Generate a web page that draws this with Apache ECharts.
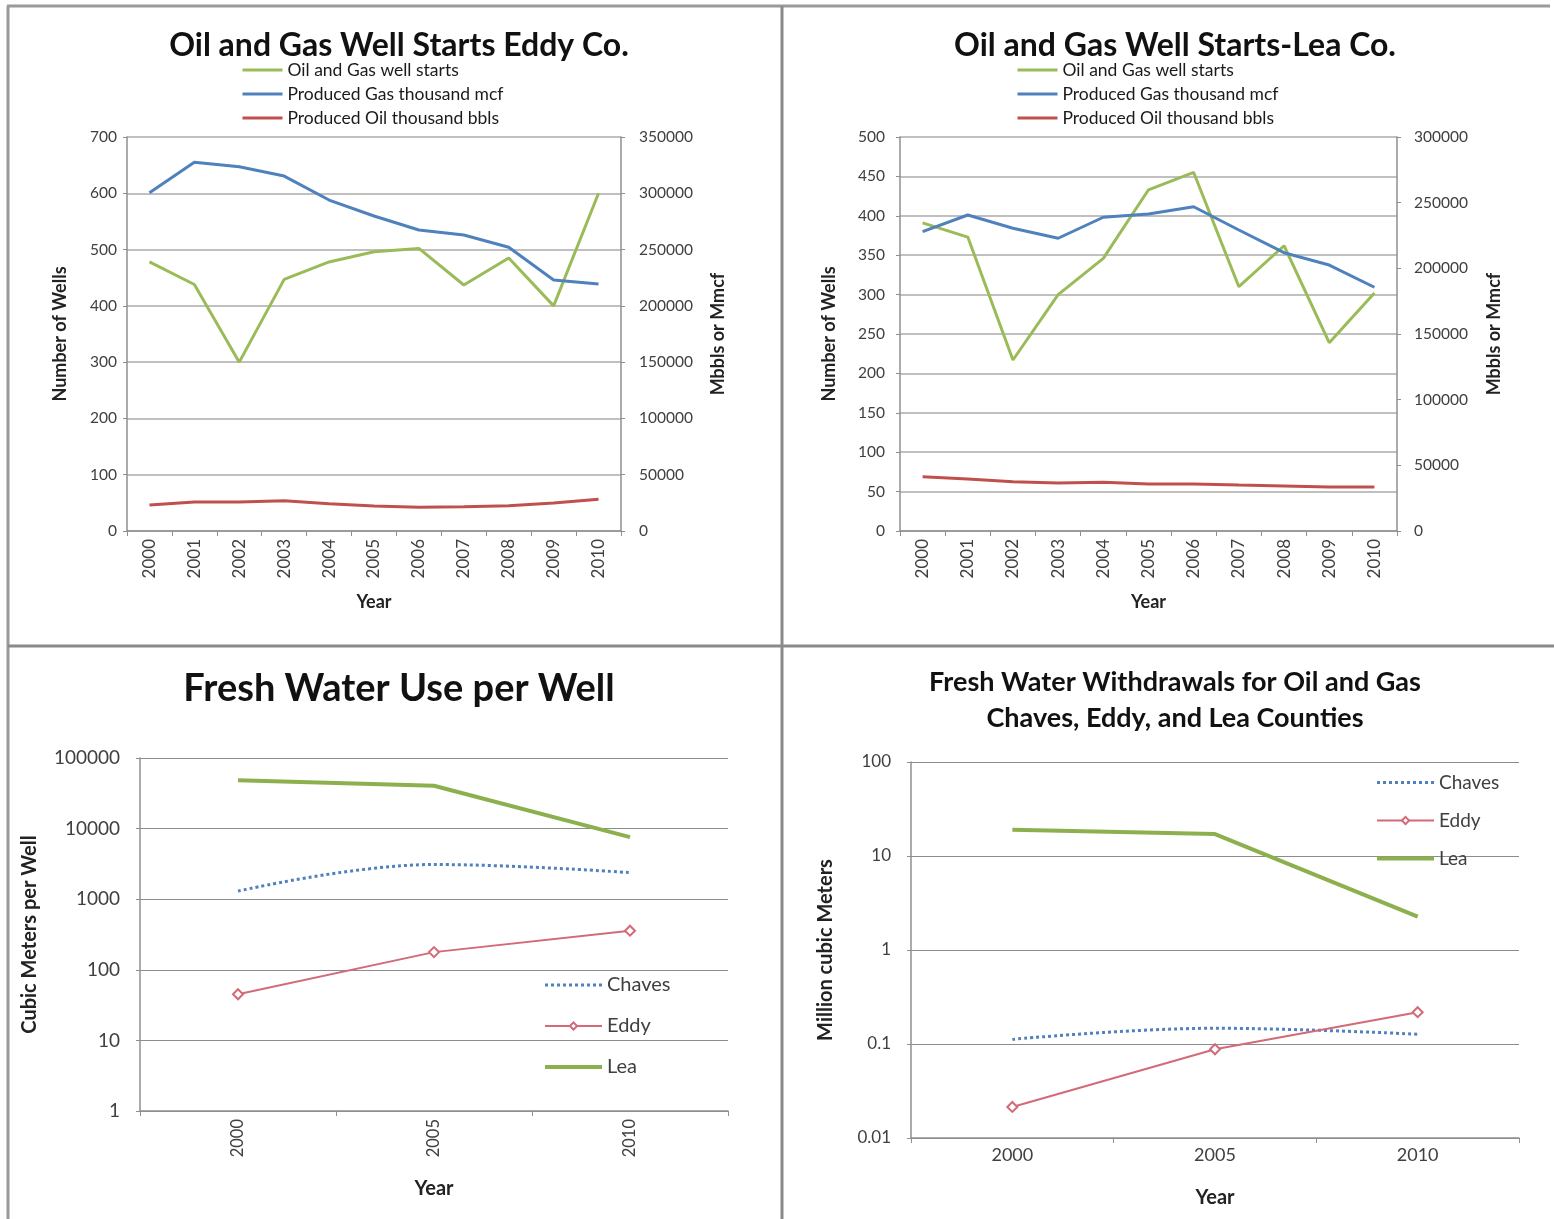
<!DOCTYPE html>
<html>
<head>
<meta charset="utf-8">
<title>Oil and Gas Wells and Fresh Water Use</title>
<script src="https://cdn.jsdelivr.net/npm/echarts@6/dist/echarts.min.js"></script>
<style>
  html, body { margin: 0; padding: 0; background: #fff; }
  #chart { width: 1554px; height: 1219px; }
</style>
</head>
<body>
<div id="chart"></div>
<script>
// Year categories
const years = ['2000', '2001', '2002', '2003', '2004', '2005', '2006', '2007', '2008', '2009', '2010'];
const waterYears = ['2000', '2005', '2010'];

// Eddy County: well starts (count), produced gas (thousand mcf), produced oil (thousand bbls)
const eddyWellStarts = [478, 438, 300, 447, 478, 496, 502, 437, 485, 400, 600];
const eddyGas = [300500, 327500, 323500, 315300, 294000, 279800, 267400, 262900, 252000, 223000, 219400];
const eddyOil = [23100, 25800, 25800, 26900, 24200, 22200, 21000, 21600, 22500, 24900, 28200];

// Lea County
const leaWellStarts = [391, 373, 217, 300, 346, 433, 455, 310, 362, 239, 302];
const leaGas = [227900, 240600, 230500, 222900, 238900, 241400, 246900, 229200, 211900, 202500, 185600];
const leaOil = [41300, 39600, 37500, 36500, 37100, 35800, 35800, 35000, 34300, 33500, 33500];

// Fresh water use per well (cubic meters)
const perWellChaves = [1300, 3100, 2380];
const perWellEddy = [45, 178, 358];
const perWellLea = [48500, 40400, 7580];

// Fresh water withdrawals (million cubic meters)
const withdrawChaves = [0.112, 0.147, 0.127];
const withdrawEddy = [0.0214, 0.088, 0.218];
const withdrawLea = [19, 17.1, 2.27];

const FONT = 'Lato, "Open Sans", sans-serif';
const GREEN = '#9BBB59';
const LEA_GREEN = '#8DB04E';
const BLUE = '#4F81BD';
const RED = '#C0504D';
const EDDY_RED = '#D26A78';
const GRID_LINE = '#ABABAB';
const AXIS_LINE = '#8F8F8F';
const LABEL = '#404040';

const plain = v => String(Number(Number(v).toPrecision(8)));

function catAxis(gridIndex, data, rotate, fontSize, nameGap, nameSize) {
  return {
    type: 'category', gridIndex, data, boundaryGap: true,
    name: 'Year', nameLocation: 'middle', nameGap,
    nameTextStyle: { fontFamily: FONT, fontWeight: 'bold', fontSize: nameSize, color: '#222' },
    axisLine: { lineStyle: { color: AXIS_LINE, width: 1.5 } },
    axisTick: { show: true, interval: 0, alignWithLabel: false, length: 5, lineStyle: { color: AXIS_LINE } },
    axisLabel: { rotate, interval: 0, fontFamily: FONT, fontSize, color: LABEL, margin: 8 },
    splitLine: { show: false }
  };
}

function valAxis(gridIndex, min, max, interval, opts, labelMargin) {
  return Object.assign({
    type: 'value', gridIndex, min, max, interval,
    nameLocation: 'middle', nameRotate: 90,
    nameTextStyle: { fontFamily: FONT, fontWeight: 'bold', fontSize: 18, color: '#222' },
    axisLine: { show: true, lineStyle: { color: AXIS_LINE, width: 1.5 } },
    axisTick: { show: true, length: 4, lineStyle: { color: AXIS_LINE } },
    axisLabel: { fontFamily: FONT, fontSize: 15.5, color: LABEL, formatter: plain, margin: labelMargin },
    splitLine: { show: true, lineStyle: { color: GRID_LINE, width: 1.5 } }
  }, opts || {});
}

function logAxis(gridIndex, min, max, name, nameGap, labelSize) {
  return {
    type: 'log', logBase: 10, gridIndex, min, max,
    name, nameLocation: 'middle', nameRotate: 90, nameGap,
    nameTextStyle: { fontFamily: FONT, fontWeight: 'bold', fontSize: 20, color: '#222' },
    axisLine: { show: true, lineStyle: { color: AXIS_LINE, width: 1.5 } },
    axisTick: { show: true, length: 4, lineStyle: { color: AXIS_LINE } },
    axisLabel: { fontFamily: FONT, fontSize: labelSize, color: LABEL, formatter: plain, margin: 20 },
    splitLine: { show: true, lineStyle: { color: '#8C8C8C', width: 1.2 } }
  };
}

// series legends show plain line keys; the line-only keys hide the symbol
const noMark = { opacity: 0 };

function topLegend(left) {
  return {
    orient: 'vertical', left, top: 61, padding: 0,
    itemWidth: 40, itemHeight: 20, itemGap: 6,
    itemStyle: noMark,
    lineStyle: { width: 3 },
    textStyle: { fontFamily: FONT, fontSize: 17.5, color: '#1a1a1a' },
    data: ['Oil and Gas well starts', 'Produced Gas thousand mcf', 'Produced Oil thousand bbls']
  };
}

function waterLegend(left, top, gap, size) {
  return {
    orient: 'vertical', left, top, padding: 0,
    itemWidth: 57, itemHeight: 9, itemGap: gap,
    textStyle: { fontFamily: FONT, fontSize: size, color: LABEL },
    data: [
      { name: 'Chaves', itemStyle: noMark, lineStyle: { width: 3 } },
      { name: 'Eddy', lineStyle: { width: 2 } },
      { name: 'Lea', itemStyle: noMark, lineStyle: { width: 4 } }
    ]
  };
}

function line(name, xAxisIndex, yAxisIndex, data, color, width) {
  return {
    type: 'line', name, xAxisIndex, yAxisIndex, data,
    symbol: 'none', color, lineStyle: { color, width }, z: 3
  };
}

function waterSeries(xAxisIndex, yAxisIndex, chaves, eddy, lea) {
  return [
    { type: 'line', name: 'Chaves', xAxisIndex, yAxisIndex, data: chaves, smooth: 0.4,
      symbol: 'none', color: BLUE, lineStyle: { color: BLUE, width: 3, type: 'dotted' } },
    { type: 'line', name: 'Eddy', xAxisIndex, yAxisIndex, data: eddy,
      symbol: 'emptyDiamond', symbolSize: 10, color: EDDY_RED,
      itemStyle: { color: EDDY_RED, borderWidth: 1.5 },
      lineStyle: { color: EDDY_RED, width: 2 } },
    { type: 'line', name: 'Lea', xAxisIndex, yAxisIndex, data: lea,
      symbol: 'none', color: LEA_GREEN, lineStyle: { color: LEA_GREEN, width: 4 } }
  ];
}

const titleStyle = size => ({ fontFamily: FONT, fontWeight: 'bold', fontSize: size, color: '#111' });

const option = {
  backgroundColor: '#ffffff',
  animation: false,
  title: [
    { text: 'Oil and Gas Well Starts Eddy Co.', left: 394, top: 25, textAlign: 'center', textStyle: titleStyle(32) },
    { text: 'Oil and Gas Well Starts-Lea Co.', left: 1170, top: 25, textAlign: 'center', textStyle: titleStyle(32) },
    { text: 'Fresh Water Use per Well', left: 394, top: 665, textAlign: 'center', textStyle: titleStyle(38) },
    { text: 'Fresh Water Withdrawals for Oil and Gas\nChaves, Eddy, and Lea Counties', left: 1170, top: 659,
      textAlign: 'center', textStyle: Object.assign(titleStyle(27), { lineHeight: 36 }) }
  ],
  legend: [
    topLegend(241),
    topLegend(1016),
    waterLegend(543, 975, 21, 20),
    waterLegend(1375, 773, 19, 19)
  ],
  grid: [
    { left: 127, top: 137, width: 494, height: 394 },
    { left: 900, top: 137, width: 497, height: 394 },
    { left: 140, top: 758, width: 588, height: 353 },
    { left: 911, top: 762, width: 608, height: 376 }
  ],
  xAxis: [
    catAxis(0, years, 90, 17, 62, 18),
    catAxis(1, years, 90, 17, 62, 18),
    catAxis(2, waterYears, 90, 16.5, 68, 20),
    catAxis(3, waterYears, 0, 18, 50, 20)
  ],
  yAxis: [
    valAxis(0, 0, 700, 100, { name: 'Number of Wells', nameGap: 58 }, 10),
    valAxis(0, 0, 350000, 50000, { position: 'right', name: 'Mbbls or Mmcf', nameGap: 88,
      splitLine: { show: false } }, 18),
    valAxis(1, 0, 500, 50, { name: 'Number of Wells', nameGap: 62 }, 15),
    valAxis(1, 0, 300000, 50000, { position: 'right', name: 'Mbbls or Mmcf', nameGap: 88,
      splitLine: { show: false } }, 17),
    logAxis(2, 1, 100000, 'Cubic Meters per Well', 100, 19),
    logAxis(3, 0.01, 100, 'Million cubic Meters', 75, 17)
  ],
  series: [
    line('Oil and Gas well starts', 0, 0, eddyWellStarts, GREEN, 3),
    line('Produced Gas thousand mcf', 0, 1, eddyGas, BLUE, 3),
    line('Produced Oil thousand bbls', 0, 1, eddyOil, RED, 3),
    line('Oil and Gas well starts', 1, 2, leaWellStarts, GREEN, 3),
    line('Produced Gas thousand mcf', 1, 3, leaGas, BLUE, 3),
    line('Produced Oil thousand bbls', 1, 3, leaOil, RED, 3)
  ].concat(
    waterSeries(2, 4, perWellChaves, perWellEddy, perWellLea),
    waterSeries(3, 5, withdrawChaves, withdrawEddy, withdrawLea)
  ),
  // panel frame lines separating the four charts
  graphic: [
    { type: 'line', shape: { x1: 7, y1: 6, x2: 1550, y2: 6 }, style: { stroke: '#9A9A9A', lineWidth: 3 } },
    { type: 'line', shape: { x1: 8, y1: 6, x2: 8, y2: 1219 }, style: { stroke: '#9A9A9A', lineWidth: 3 } },
    { type: 'line', shape: { x1: 782, y1: 6, x2: 782, y2: 1219 }, style: { stroke: '#8A8A8A', lineWidth: 3 } },
    { type: 'line', shape: { x1: 8, y1: 646, x2: 1554, y2: 646 }, style: { stroke: '#8A8A8A', lineWidth: 3 } }
  ]
};

const chart = echarts.init(document.getElementById('chart'), null, { renderer: 'canvas' });
chart.setOption(option);
</script>
</body>
</html>
